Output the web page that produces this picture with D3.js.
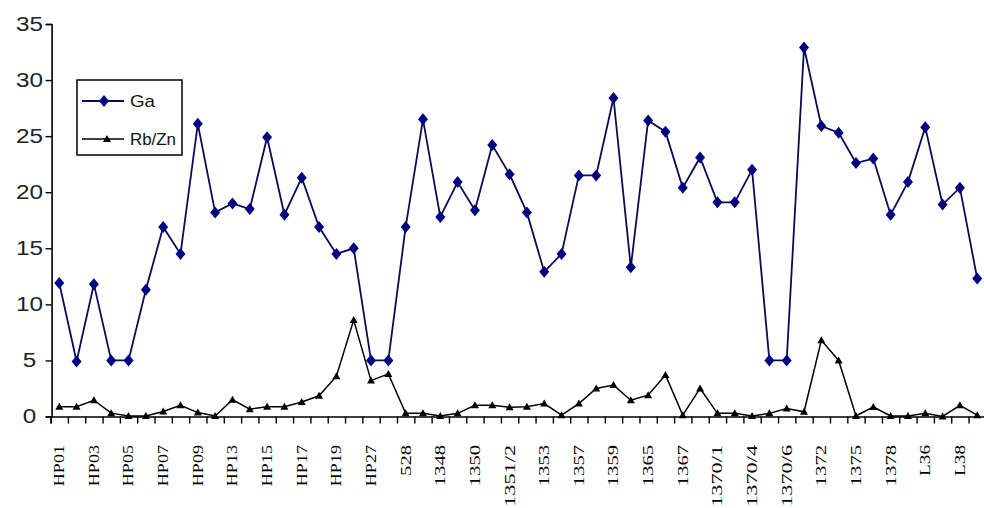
<!DOCTYPE html>
<html><head><meta charset="utf-8">
<script src="https://cdn.jsdelivr.net/npm/d3@7"></script>
<style>body{margin:0;background:#fff}svg{display:block}</style>
</head><body>
<svg id="c" width="984" height="508"></svg>
<script>
const categories = ["HP01","HP02","HP03","HP04","HP05","HP06","HP07","HP08","HP09","HP10",
"HP13","HP14","HP15","HP16","HP17","HP18","HP19","HP20","HP27","HP28",
"528","1347","1348","1349","1350","1351/1","1351/2","1352","1353","1355",
"1357","1358","1359","1360","1365","1366","1367","1368","1370/1","1370/2",
"1370/4","1370/5","1370/6","1371","1372","1373","1375","1376","1378","L35",
"L36","L37","L38","L39"];
const gaValues = [11.9,4.9,11.8,5.0,5.0,11.3,16.9,14.5,26.1,18.2,
19.0,18.5,24.9,18.0,21.3,16.9,14.5,15.0,5.0,5.0,
16.9,26.5,17.8,20.9,18.4,24.2,21.6,18.2,12.9,14.5,
21.5,21.5,28.4,13.3,26.4,25.4,20.4,23.1,19.1,19.1,
22.0,5.0,5.0,32.9,25.9,25.3,22.6,23.0,18.0,20.9,
25.8,18.9,20.4,12.3];
const rbznValues = [0.87,0.87,1.45,0.3,0.05,0.05,0.45,1.0,0.35,0.05,
1.5,0.65,0.87,0.87,1.3,1.85,3.6,8.6,3.2,3.8,
0.28,0.28,0.05,0.28,1.0,1.0,0.82,0.87,1.15,0.12,
1.15,2.5,2.8,1.45,1.9,3.7,0.12,2.5,0.28,0.28,
0.05,0.28,0.72,0.42,6.8,5.0,0.05,0.85,0.05,0.05,
0.28,0.0,1.0,0.12];
const yTicks = [0,5,10,15,20,25,30,35];
const seriesNames = ["Ga","Rb/Zn"];

const svg = d3.select("#c");
const mLeft = 50.6, mRight = mLeft + 54*17.32, mTop = 24, mBottom = 416.5;
const x = d3.scaleBand().domain(categories).range([mLeft, mRight]);
const xb = d3.scaleLinear().domain([0, categories.length]).range([mLeft, mRight]);
const y = d3.scaleLinear().domain([0,35]).range([mBottom, mTop]);
const cx = d => x(d) + x.bandwidth()/2;

// y axis
const ya = svg.append("g").attr("transform",`translate(${mLeft+1},0)`)
  .call(d3.axisLeft(y).tickValues(yTicks).tickSize(6).tickFormat(d3.format("d")));
ya.select(".domain").attr("stroke","#000").attr("stroke-width",1.6);
ya.selectAll(".tick line").attr("stroke","#000").attr("stroke-width",1.4);
ya.selectAll(".tick text").attr("x",-22).attr("text-anchor","middle")
  .attr("font-family","Liberation Sans, Arial, sans-serif").attr("font-size",20)
  .attr("fill","#222")
  .attr("textLength", d => String(d).length*13.5).attr("lengthAdjust","spacingAndGlyphs");

// x boundary ticks
const xt = svg.append("g").attr("transform",`translate(0,${mBottom})`)
  .call(d3.axisBottom(xb).tickValues(d3.range(0, categories.length+1)).tickSize(7).tickFormat(""));
xt.select(".domain").attr("stroke","#000").attr("stroke-width",1.6);
xt.selectAll(".tick line").attr("stroke","#000").attr("stroke-width",1.4);

// x labels every other category
const xl = svg.append("g").attr("transform",`translate(0,${mBottom})`)
  .call(d3.axisBottom(x).tickValues(categories.filter((d,i)=>i%2===0)).tickSize(0));
xl.select(".domain").remove();
xl.selectAll(".tick text")
  .attr("transform","translate(0,28.5) rotate(-90)")
  .attr("x",0).attr("y",0).attr("dy","0.33em")
  .attr("text-anchor","end")
  .attr("font-family","Liberation Serif, Times New Roman, serif")
  .attr("font-size",15).attr("fill","#000")
  .attr("textLength", d => d.length*10.3).attr("lengthAdjust","spacingAndGlyphs");

// lines
const line = vals => d3.line().x((d,i)=>cx(categories[i])).y(d=>y(d))(vals);
svg.append("path").attr("d", line(rbznValues)).attr("fill","none").attr("stroke","#000").attr("stroke-width",1.5);
svg.append("path").attr("d", line(gaValues)).attr("fill","none").attr("stroke","#0b0b55").attr("stroke-width",1.8);

const diamond = "M0,-6L5,0L0,6L-5,0Z";
const tri = "M0,-4L4,3L-4,3Z";
svg.append("g").selectAll("path").data(rbznValues).join("path")
  .attr("d", tri).attr("fill","#000")
  .attr("transform",(d,i)=>`translate(${cx(categories[i])},${y(d)})`);
svg.append("g").selectAll("path").data(gaValues).join("path")
  .attr("d", diamond).attr("fill","#000080")
  .attr("transform",(d,i)=>`translate(${cx(categories[i])},${y(d)})`);

// legend
const lg = svg.append("g");
lg.append("rect").attr("x",77).attr("y",80).attr("width",105).attr("height",75)
  .attr("fill","#fff").attr("stroke","#000").attr("stroke-width",1.5);
lg.append("line").attr("x1",82).attr("x2",124).attr("y1",101).attr("y2",101).attr("stroke","#0b0b55").attr("stroke-width",1.8);
lg.append("path").attr("d",diamond).attr("fill","#000080").attr("transform","translate(104,101)");
lg.append("line").attr("x1",82).attr("x2",124).attr("y1",139).attr("y2",139).attr("stroke","#000").attr("stroke-width",1.5);
lg.append("path").attr("d",tri).attr("fill","#000").attr("transform","translate(107,139)");
lg.selectAll("text.l").data(seriesNames).join("text")
  .attr("x",130).attr("y",(d,i)=>i===0?101:139).attr("dy","0.35em")
  .attr("font-family","Liberation Sans, Arial, sans-serif").attr("font-size",17).attr("fill","#111")
  .attr("textLength",(d,i)=>i===0?25:46).attr("lengthAdjust","spacingAndGlyphs")
  .text(d=>d);
</script>
</body></html>
